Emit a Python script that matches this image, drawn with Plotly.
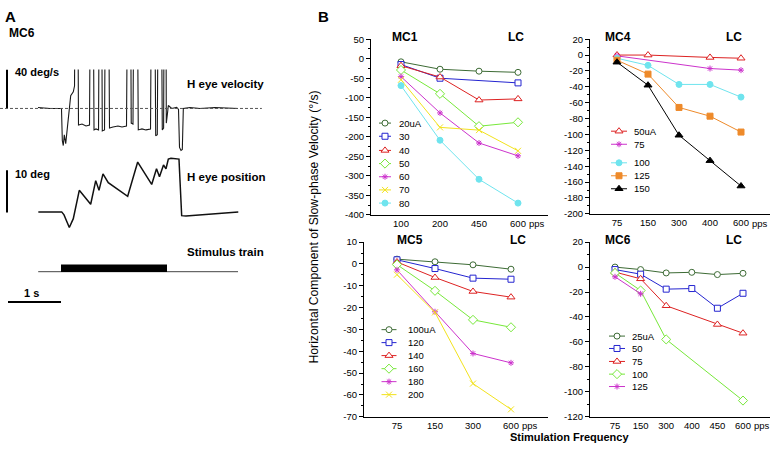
import plotly.graph_objects as go

W, H = 773, 453
FONT = "Liberation Sans, Arial, Helvetica, sans-serif"

# ---------------- panel A : MC6 single trial (t in s, stimulus onset = 0) ----------------
vel_t = [-0.434, -0.208, 0.009, 0.025, 0.043, 0.062, 0.089, 0.119, 0.157, 0.183, 0.232, 0.255,
         0.292, 0.330, 0.396, 0.472, 0.538, 0.581, 0.623, 0.660, 0.708, 0.745, 0.779, 0.821,
         0.868, 0.915, 0.981, 1.075, 1.151, 1.236, 1.289, 1.325, 1.358, 1.406, 1.458, 1.528,
         1.604, 1.689, 1.736, 1.787, 1.817, 1.862, 1.911, 1.936, 1.966, 1.987, 2.009, 2.025,
         2.089, 2.183, 2.217, 2.236, 2.264, 2.289, 2.308, 2.434, 2.623, 2.906, 3.340]
vel_deg_s = [1, 0, 0, -33, -38, -27, -36, -22, 2, 13, 17, 23,
             400, -17, -16, -18, -17, 400, -22, -21, -22, 400, -23, -22,
             400, -20, -19, -18, -19, -18, 400, -15, -16, 400, -22, -21,
             -22, -21, 400, -28, -27, 400, -22, -20, 400, -15, -5, 3,
             0, 1, -1, -40, -43, -42, 0, 1, 0, 1, 0]

pos_t = [-0.428, -0.208, 0.013, 0.057, 0.157, 0.232, 0.296, 0.345, 0.560, 0.655, 0.717, 0.792,
         0.892, 1.258, 1.447, 1.711, 1.802, 1.858, 1.934, 1.981, 2.025, 2.075, 2.226, 2.277,
         2.358, 2.623, 2.900, 3.345]
pos_deg = [0, 0, 0, -0.7, -3.7, -1.6, 2.5, 5.1, 1.8, 7.4, 5.1, 9.0,
           6.9, 3.7, 11.8, 6.5, 10.2, 8.3, 11.1, 10.2, 12.5, 12.7, 12.5, -0.9,
           -1.0, -0.7, -0.35, 0]

stim_on, stim_off = 0.0, 2.0
trace_start, trace_end = -0.43, 3.34

# ---------------- panel B : slow-phase velocity vs stimulation frequency ----------------
mc1_freq = ["100", "200", "450", "600"]
mc1_curr = ["20uA", "30", "40", "50", "60", "70", "80"]
mc1_vals = [[-8, -27, -32, -35],
            [-15, -50, None, -62],
            [-18, -47, -106, -103],
            [-29, -90, -173, -163],
            [-46, -139, -216, -249],
            [-54, -176, -183, -236],
            [-69, -209, -309, -370]]

mc4_freq = ["75", "150", "300", "400", "600"]
mc4_curr = ["50uA", "75", "100", "125", "150"]
mc4_vals = [[0, 0, None, -3, -4],
            [-1, None, None, -17, -19],
            [-4, -13, -37, -37, -53],
            [-6.5, -24, -66, -77, -97],
            [-9, -38, -101, -133, -165]]

mc5_freq = ["75", "150", "300", "600"]
mc5_curr = ["100uA", "120", "140", "160", "180", "200"]
mc5_vals = [[2.2, 1.0, -0.4, -2.4],
            [1.9, -2.1, -6.5, -7.0],
            [0.9, -6.2, -12.6, -15.2],
            [-0.3, -12.3, -25.6, -29.0],
            [-2.7, -21.9, -41.0, -45.3],
            [-4.9, -22.2, -54.8, -66.6]]

mc6_freq = ["75", "150", "300", "400", "450", "600"]
mc6_curr = ["25uA", "50", "75", "100", "125"]
mc6_vals = [[0, -2, -4.7, -4.2, -6, -5],
            [-2, -5.7, -17.7, -17.2, -33, -21],
            [-4, -9.4, -31, None, -46, -53],
            [-4.7, -18.8, -58, None, None, -107],
            [-7.8, -21.4, None, None, None, None]]

mc1_yticks = list(range(-400, 51, 50))
mc4_yticks = list(range(-200, 21, 20))
mc5_yticks = list(range(-70, 11, 10))
mc6_yticks = list(range(-120, 21, 20))

# marker / line styles
STY = {
    "green":  dict(color="#3d6b35", symbol="circle", fill="white", size=6),
    "blue":   dict(color="#2424d0", symbol="square", fill="white", size=6),
    "red":    dict(color="#dd2222", symbol="triangle-up", fill="white", size=7),
    "lime":   dict(color="#77e83a", symbol="diamond", fill="white", size=7),
    "magenta": dict(color="#cc33cc", symbol="asterisk-open", fill="#cc33cc", size=5),
    "yellow": dict(color="#f2e21c", symbol="x-thin-open", fill="#f2e21c", size=6),
    "cyan":   dict(color="#6fe4ee", symbol="circle", fill="#6fe4ee", size=6),
    "orange": dict(color="#ee8a2a", symbol="square", fill="#ee8a2a", size=6),
    "black":  dict(color="#000000", symbol="triangle-up", fill="#000000", size=7),
}


def px(x):
    return x / W


def py(y):
    return 1 - y / H


panels = [
    dict(name="MC1", ax="3", freq=mc1_freq, curr=mc1_curr, vals=mc1_vals, yt=mc1_yticks,
         sty=["green", "blue", "red", "lime", "magenta", "yellow", "cyan"],
         xdom=(371, 548), ydom=(214, 34), xr=(-0.769, 3.769), minor=25,
         title=(405, 32), lc=(516, 32), pps=(537, 223),
         leg_x=385, leg_w=12, leg_tx=397, leg_y=[120, 133.5, 148, 161.5, 175, 188.5, 202]),
    dict(name="MC4", ax="4", freq=mc4_freq, curr=mc4_curr, vals=mc4_vals, yt=mc4_yticks,
         sty=["red", "magenta", "cyan", "orange", "black"],
         xdom=(590, 770), ydom=(213, 34), xr=(-0.871, 4.935), minor=10,
         title=(618, 32), lc=(734, 32), pps=(760, 223),
         leg_x=619, leg_w=16, leg_tx=632, leg_y=[128.3, 141.7, 160.7, 174, 187.3]),
    dict(name="MC5", ax="5", freq=mc5_freq, curr=mc5_curr, vals=mc5_vals, yt=mc5_yticks,
         sty=["green", "blue", "red", "lime", "magenta", "yellow"],
         xdom=(364, 548), ydom=(421, 242), xr=(-0.868, 3.974), minor=5,
         title=(410, 240), lc=(518, 240), pps=(530, 430),
         leg_x=389, leg_w=15, leg_tx=406, leg_y=[331.7, 345, 358.3, 371.7, 385, 398.3]),
    dict(name="MC6", ax="6", freq=mc6_freq, curr=mc6_curr, vals=mc6_vals, yt=mc6_yticks,
         sty=["green", "blue", "red", "lime", "magenta"],
         xdom=(590, 770), ydom=(421, 242), xr=(-0.977, 6.055), minor=10,
         title=(618, 240), lc=(734, 240), pps=(762, 430),
         leg_x=617, leg_w=16, leg_tx=630, leg_y=[338.3, 351, 364.3, 377.3, 390]),
]

fig = go.Figure()

# panel A traces
fig.add_trace(go.Scatter(x=vel_t, y=vel_deg_s, xaxis="x", yaxis="y", mode="lines",
                         line=dict(color="#1a1a1a", width=1.1), showlegend=False))
fig.add_trace(go.Scatter(x=pos_t, y=pos_deg, xaxis="x", yaxis="y2", mode="lines",
                         line=dict(color="#111111", width=1.5), showlegend=False))

annotations = []
shapes = []


def txt(x, y, s, size, bold=False, xanchor="left", angle=0):
    annotations.append(dict(x=px(x), y=py(y), xref="paper", yref="paper", text=s, showarrow=False,
                            xanchor=xanchor, yanchor="middle", textangle=angle,
                            font=dict(family=FONT, size=size, color="black",
                                      weight="bold" if bold else "normal")))


layout_axes = {}
for p in panels:
    n = p["ax"]
    for vals, key in zip(p["vals"], p["sty"]):
        s = STY[key]
        fig.add_trace(go.Scatter(
            x=p["freq"], y=vals, xaxis="x" + n, yaxis="y" + n, mode="lines+markers",
            connectgaps=True, showlegend=False, cliponaxis=False,
            line=dict(color=s["color"], width=1),
            marker=dict(symbol=s["symbol"], size=s["size"], color=s["fill"],
                        line=dict(color=s["color"], width=1))))
    # legend swatches on the pixel overlay axes
    for lab, key, ly in zip(p["curr"], p["sty"], p["leg_y"]):
        s = STY[key]
        hw = p["leg_w"] / 2
        fig.add_trace(go.Scatter(x=[p["leg_x"] - hw, p["leg_x"] + hw], y=[ly, ly], xaxis="x7", yaxis="y7",
                                 mode="lines", line=dict(color=s["color"], width=1), showlegend=False))
        fig.add_trace(go.Scatter(x=[p["leg_x"]], y=[ly], xaxis="x7", yaxis="y7", mode="markers",
                                 marker=dict(symbol=s["symbol"], size=s["size"], color=s["fill"],
                                             line=dict(color=s["color"], width=1)), showlegend=False))
        txt(p["leg_tx"], ly, lab, 9.5)
    layout_axes["xaxis" + n] = dict(
        domain=[px(p["xdom"][0]), px(p["xdom"][1])], anchor="y" + n, type="category",
        categoryorder="array", categoryarray=p["freq"], range=list(p["xr"]),
        showline=True, linecolor="black", linewidth=1, ticks="", showgrid=False, zeroline=False,
        tickfont=dict(family=FONT, size=9.5, color="black"), fixedrange=True)
    layout_axes["yaxis" + n] = dict(
        domain=[py(p["ydom"][0]), py(p["ydom"][1])], anchor="x" + n,
        range=[p["yt"][0], p["yt"][-1]], tickmode="array", tickvals=p["yt"],
        ticktext=[str(v) for v in p["yt"]],
        showline=True, linecolor="black", linewidth=1, ticks="outside", ticklen=4, tickcolor="black",
        minor=dict(ticks="outside", ticklen=2, tickcolor="black", dtick=p["minor"], tick0=0),
        showgrid=False, zeroline=False, tickfont=dict(family=FONT, size=9.5, color="black"),
        fixedrange=True)
    txt(p["title"][0], p["title"][1], p["name"], 12, bold=True, xanchor="center")
    txt(p["lc"][0], p["lc"][1], "LC", 12, bold=True, xanchor="center")
    txt(p["pps"][0], p["pps"][1], "pps", 9.5, xanchor="center")

# panel A decorations: scale bars, zero line, stimulus train
shapes.append(dict(type="line", xref="x", yref="y", x0=-1.019, x1=-1.019, y0=0, y1=40,
                   line=dict(color="black", width=2)))
shapes.append(dict(type="line", xref="x", yref="y", x0=-1.151, x1=3.79, y0=0, y1=0,
                   line=dict(color="#555555", width=1, dash="3px,2px")))
shapes.append(dict(type="line", xref="x", yref="y2", x0=-1.019, x1=-1.019, y0=-0.14, y1=9.86,
                   line=dict(color="black", width=2)))
shapes.append(dict(type="line", xref="x", yref="paper", x0=trace_start, x1=trace_end,
                   y0=py(272.3), y1=py(272.3), line=dict(color="#444444", width=1)))
shapes.append(dict(type="rect", xref="x", yref="paper", x0=stim_on, x1=stim_off,
                   y0=py(272.5), y1=py(265), line=dict(width=0), fillcolor="black"))
shapes.append(dict(type="line", xref="x", yref="paper", x0=-1.0, x1=0.0,
                   y0=py(303.3), y1=py(303.3), line=dict(color="black", width=2)))

txt(3, 11, "A", 15, bold=True)
txt(7, 28, "MC6", 12, bold=True)
txt(13, 68, "40 deg/s", 11, bold=True)
txt(185, 80, "H eye velocity", 11.5, bold=True)
txt(13, 172, "10 deg", 11, bold=True)
txt(185, 175, "H eye position", 11.5, bold=True)
txt(185, 252, "Stimulus train", 11.5, bold=True)
txt(31.5, 294, "1 s", 11, bold=True, xanchor="center")

txt(316, 11, "B", 15, bold=True)
txt(314, 227, "Horizontal Component of Slow-phase Velocity (°/s)", 12.2, xanchor="center", angle=-90)
txt(569, 442, "Stimulation Frequency", 11, bold=True, xanchor="center")

hidden = dict(visible=False, showgrid=False, zeroline=False, fixedrange=True)
fig.update_layout(
    width=W, height=H, margin=dict(l=0, r=0, t=0, b=0),
    paper_bgcolor="white", plot_bgcolor="rgba(0,0,0,0)",
    font=dict(family=FONT, color="black"),
    xaxis=dict(domain=[0, px(265)], range=[-1.151, 3.849], anchor="y", **hidden),
    yaxis=dict(domain=[py(150), py(65)], range=[-45, 40], anchor="x", **hidden),
    yaxis2=dict(domain=[py(235), py(150)], range=[-5.54, 14.09], anchor="x", **hidden),
    xaxis7=dict(domain=[0, 1], range=[0, W], anchor="y7", **hidden),
    yaxis7=dict(domain=[0, 1], range=[H, 0], anchor="x7", **hidden),
    annotations=annotations, shapes=shapes, showlegend=False,
    **layout_axes,
)

# the page's default 8px body margin would shift the whole figure
fig.write_html("out.html", config={"staticPlot": True},
               post_script="document.body.style.margin='0';document.body.style.overflow='hidden';")
